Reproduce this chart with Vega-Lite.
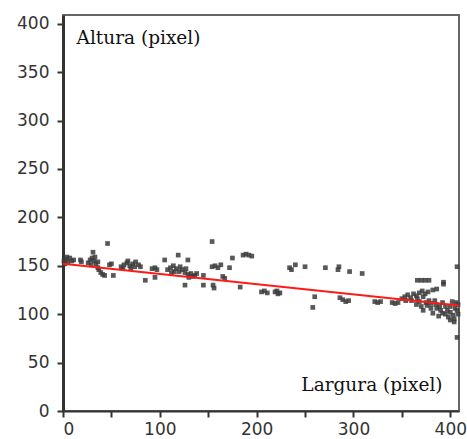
{
  "$schema": "https://vega.github.io/schema/vega-lite/v6.json",
  "width": 396,
  "height": 396,
  "autosize": "none",
  "padding": {"left": 63, "top": 15, "right": 8, "bottom": 28},
  "background": "white",
  "config": {
    "view": {"stroke": "#666", "strokeWidth": 2},
    "axis": {"grid": false, "labelFont": "DejaVu Sans", "labelFontSize": 17, "labelColor": "#333", "domainColor": "#333", "domainWidth": 3, "tickColor": "#333", "tickWidth": 2, "tickSize": 6, "title": null}
  },
  "datasets": {
    "pts": [
      {"x":1,"y":155},{"x":3,"y":157},{"x":5,"y":154},{"x":7,"y":158},{"x":9,"y":155},{"x":2,"y":152},{"x":11,"y":156},{"x":4,"y":159},
      {"x":18,"y":156},{"x":19,"y":154},
      {"x":26,"y":153},{"x":28,"y":156},{"x":30,"y":158},{"x":32,"y":155},{"x":34,"y":152},{"x":36,"y":154},{"x":29,"y":151},{"x":33,"y":159},
      {"x":31,"y":164},{"x":46,"y":173},
      {"x":37,"y":146},{"x":39,"y":143},{"x":41,"y":141},{"x":43,"y":140},{"x":36,"y":148},
      {"x":48,"y":151},{"x":50,"y":152},{"x":52,"y":140},
      {"x":60,"y":149},{"x":63,"y":151},{"x":66,"y":153},{"x":69,"y":150},{"x":72,"y":152},{"x":75,"y":154},{"x":78,"y":151},{"x":80,"y":149},{"x":62,"y":147},{"x":70,"y":147},{"x":67,"y":155},{"x":74,"y":149},
      {"x":85,"y":135},{"x":92,"y":147},{"x":95,"y":148},{"x":97,"y":146},{"x":95,"y":138},{"x":105,"y":156},{"x":119,"y":161},
      {"x":108,"y":146},{"x":111,"y":148},{"x":114,"y":150},{"x":117,"y":147},{"x":120,"y":144},{"x":123,"y":146},{"x":126,"y":143},{"x":129,"y":141},{"x":132,"y":142},{"x":134,"y":139},{"x":115,"y":144},{"x":121,"y":149},{"x":127,"y":147},{"x":130,"y":138},{"x":112,"y":143},
      {"x":126,"y":130},{"x":129,"y":156},{"x":136,"y":140},{"x":138,"y":142},{"x":145,"y":140},{"x":154,"y":175},{"x":155,"y":130},{"x":156,"y":127},{"x":145,"y":130},
      {"x":154,"y":149},{"x":157,"y":150},{"x":160,"y":148},{"x":163,"y":151},{"x":165,"y":139},{"x":167,"y":137},{"x":172,"y":148},{"x":175,"y":158},
      {"x":186,"y":161},{"x":189,"y":162},{"x":192,"y":161},{"x":195,"y":160},{"x":183,"y":128},
      {"x":205,"y":123},{"x":208,"y":124},{"x":211,"y":122},{"x":219,"y":123},{"x":221,"y":124},{"x":224,"y":122},{"x":222,"y":121},
      {"x":234,"y":148},{"x":236,"y":146},{"x":240,"y":151},{"x":250,"y":149},{"x":260,"y":118},{"x":258,"y":107},
      {"x":271,"y":148},{"x":284,"y":146},{"x":285,"y":149},{"x":296,"y":144},{"x":309,"y":142},
      {"x":286,"y":117},{"x":289,"y":115},{"x":292,"y":113},{"x":295,"y":114},
      {"x":322,"y":113},{"x":325,"y":112},{"x":328,"y":113},{"x":340,"y":112},{"x":343,"y":111},{"x":346,"y":112},
      {"x":350,"y":116},{"x":353,"y":118},{"x":356,"y":120},{"x":359,"y":117},{"x":362,"y":121},{"x":365,"y":119},{"x":368,"y":122},{"x":371,"y":124},{"x":374,"y":121},{"x":377,"y":123},{"x":360,"y":114},{"x":366,"y":116},{"x":354,"y":114},{"x":372,"y":118},
      {"x":366,"y":135},{"x":370,"y":135},{"x":374,"y":135},{"x":378,"y":135},{"x":393,"y":133},{"x":393,"y":131},{"x":382,"y":125},{"x":386,"y":126},
      {"x":365,"y":110},{"x":370,"y":108},{"x":375,"y":112},{"x":380,"y":106},{"x":385,"y":110},{"x":390,"y":104},{"x":395,"y":108},{"x":400,"y":102},{"x":405,"y":106},{"x":408,"y":100},{"x":372,"y":104},{"x":382,"y":101},{"x":392,"y":112},{"x":398,"y":97},{"x":404,"y":95},{"x":408,"y":110},{"x":388,"y":98},{"x":378,"y":114},{"x":402,"y":113},{"x":407,"y":104},{"x":395,"y":100},{"x":400,"y":108},{"x":386,"y":106},{"x":384,"y":114},
      {"x":368,"y":113},{"x":376,"y":109},{"x":389,"y":108},{"x":397,"y":104},{"x":403,"y":99},{"x":406,"y":112},{"x":392,"y":101},{"x":380,"y":111},
      {"x":400,"y":94},{"x":404,"y":92},{"x":407,"y":76},{"x":407,"y":149}
    ],
    "fit": [{"x":0,"y":152},{"x":409,"y":109}],
    "lab1": [{"x":14,"y":385,"t":"Altura (pixel)"}],
    "lab2": [{"x":392,"y":27,"t":"Largura (pixel)"}]
  },
  "layer": [
    {
      "data": {"name": "pts"},
      "mark": {"type": "square", "size": 22, "color": "#3c3c3c", "opacity": 0.85},
      "encoding": {
        "x": {"field": "x", "type": "quantitative", "scale": {"domain": [0, 409], "nice": false, "zero": false},
              "axis": {"values": [0,50,100,150,200,250,300,350,400], "labelExpr": "datum.value % 100 == 0 ? datum.label : ''", "labelPadding": 4, "domainWidth": 2}},
        "y": {"field": "y", "type": "quantitative", "scale": {"domain": [0, 409], "nice": false, "zero": false},
              "axis": {"values": [0,25,50,75,100,125,150,175,200,225,250,275,300,325,350,375,400], "labelExpr": "datum.value % 50 == 0 ? datum.label : ''", "labelPadding": 8}}
      }
    },
    {
      "data": {"name": "fit"},
      "mark": {"type": "line", "color": "#ff1a1a", "strokeWidth": 2},
      "encoding": {"x": {"field": "x", "type": "quantitative"}, "y": {"field": "y", "type": "quantitative"}}
    },
    {
      "data": {"name": "lab1"},
      "mark": {"type": "text", "font": "DejaVu Serif", "fontSize": 18.5, "color": "#111", "baseline": "middle", "align": "left"},
      "encoding": {
        "x": {"field": "x", "type": "quantitative"},
        "y": {"field": "y", "type": "quantitative"},
        "text": {"field": "t"}
      }
    },
    {
      "data": {"name": "lab2"},
      "mark": {"type": "text", "font": "DejaVu Serif", "fontSize": 18.5, "color": "#111", "baseline": "middle", "align": "right"},
      "encoding": {
        "x": {"field": "x", "type": "quantitative"},
        "y": {"field": "y", "type": "quantitative"},
        "text": {"field": "t"}
      }
    }
  ]
}
